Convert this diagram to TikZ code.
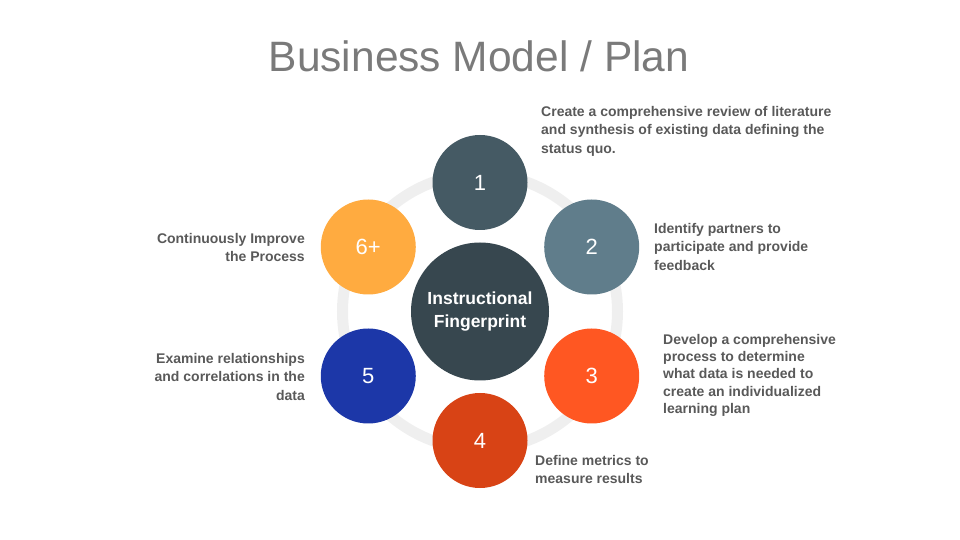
\documentclass[tikz,border=0pt]{standalone}
\usepackage{fontspec}
\setmainfont{Liberation Sans}
\usetikzlibrary{calc}
\newcommand{\hexr}{129}
\definecolor{ink}{HTML}{595959}
\definecolor{titlegray}{HTML}{7A7A7A}
\definecolor{ringgray}{HTML}{EFEFEF}
\definecolor{corecol}{HTML}{37474F}
\definecolor{onecol}{HTML}{455A64}
\definecolor{twocol}{HTML}{607D8B}
\definecolor{threecol}{HTML}{FF5722}
\definecolor{fourcol}{HTML}{D84315}
\definecolor{fivecol}{HTML}{1C37A8}
\definecolor{sixcol}{HTML}{FFAB40}

\begin{document}
\begin{tikzpicture}[x=1pt,y=1pt,
  dot/.style={circle,fill=#1,minimum size=95pt,inner sep=0pt,text=white,
    font=\fontsize{22}{26}\selectfont},
  note/.style={inner sep=0pt,text=ink,font=\bfseries\fontsize{14}{18.5}\selectfont}]
\useasboundingbox (-480,-228.5) rectangle (480,311.5);
\coordinate (o) at (0,0);
\node[anchor=base,text=titlegray,font=\fontsize{42.5}{50}\selectfont] (title) at (-1,240) {Business Model / Plan};
\draw[ringgray,line width=11pt] (o) circle (137.5);
\path (o) ++(90:\hexr) node[dot=onecol] (c1) {1};
\path (o) ++(30:\hexr) node[dot=twocol] (c2) {2};
\path (o) ++(-30:\hexr) node[dot=threecol] (c3) {3};
\path (o) ++(-90:\hexr) node[dot=fourcol] (c4) {4};
\path (o) ++(-150:\hexr) node[dot=fivecol] (c5) {5};
\path (o) ++(150:\hexr) node[dot=sixcol] (c6) {6+};
\node[circle,fill=corecol,minimum size=138pt,inner sep=0pt,text=white,align=center,
  font=\bfseries\fontsize{17.5}{22.5}\selectfont] (core) at (o) {Instructional\\Fingerprint};
\node[note,anchor=north west,align=left] (t1) at (61,205.5)
  {Create a comprehensive review of literature\\and synthesis of existing data defining the\\status quo.};
\node[note,anchor=north west,align=left] (t2) at (174,88.5)
  {Identify partners to\\participate and provide\\feedback};
\node[note,anchor=north west,align=left,font=\bfseries\fontsize{14}{17.3}\selectfont] (t3) at (183,-22.5)
  {Develop a comprehensive\\process to determine\\what data is needed to\\create an individualized\\learning plan};
\node[note,anchor=north west,align=left] (t4) at (55,-143.5)
  {Define metrics to\\measure results};
\node[note,anchor=north east,align=right] (t5) at (-175,-41.5)
  {Examine relationships\\and correlations in the\\data};
\node[note,anchor=north east,align=right] (t6) at (-175,78.5)
  {Continuously Improve\\the Process};
\end{tikzpicture}
\end{document}
